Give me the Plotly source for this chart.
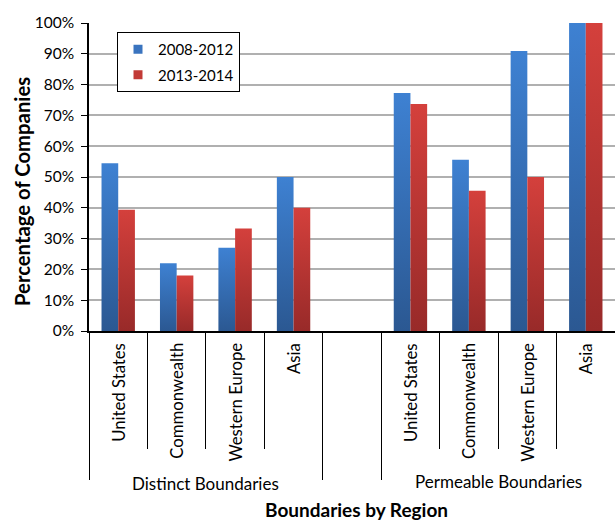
import plotly.graph_objects as go

# Survey results: share of companies by boundary type and region
regions = ["United States", "Commonwealth", "Western Europe", "Asia"]
groups = ["Distinct Boundaries", "Permeable Boundaries"]
periods = ["2008-2012", "2013-2014"]

distinct_2008 = [54.5, 22.0, 27.0, 50.0]
distinct_2013 = [39.4, 18.0, 33.3, 40.0]
permeable_2008 = [77.3, 55.6, 90.9, 100.0]
permeable_2013 = [73.7, 45.5, 50.0, 100.0]

y_ticks = list(range(0, 101, 10))
y_tick_labels = [f"{t}%" for t in y_ticks]

series = {
    "2008-2012": [distinct_2008, permeable_2008],
    "2013-2014": [distinct_2013, permeable_2013],
}
# (bottom colour, top colour, legend colour)
colours = {
    "2008-2012": ("#2b5892", "#3e81d2", "#3a74bf"),
    "2013-2014": ("#982a29", "#d4403c", "#c23a36"),
}

FONT = "Lato"
n_reg = len(regions)
slot = n_reg + 1          # one empty slot between the two groups
bar_w = 0.2857

fig = go.Figure()

for s, period in enumerate(periods):
    bottom, top, legend_col = colours[period]
    for g, vals in enumerate(series[period]):
        for j, v in enumerate(vals):
            xc = g * slot + j
            x0 = xc - bar_w + s * bar_w
            x1 = x0 + bar_w
            fig.add_trace(go.Scatter(
                x=[x0, x1, x1, x0, x0],
                y=[0, 0, v, v, 0],
                mode="none",
                fill="toself",
                fillgradient=dict(type="vertical",
                                  colorscale=[[0, bottom], [1, top]]),
                showlegend=False,
                hoverinfo="skip",
            ))
    # legend entry
    fig.add_trace(go.Scatter(
        x=[None], y=[None], mode="markers", name=period,
        marker=dict(symbol="square", size=9, color=legend_col),
        legendgroup=period,
    ))

n_slots = 2 * n_reg + 1
boundaries = [k - 0.5 for k in range(n_slots)]
group_edges = [-0.5, n_reg - 0.5, n_reg + 0.5]

annotations = []
# region labels, rotated
for g in range(len(groups)):
    for j, name in enumerate(regions):
        annotations.append(dict(
            x=g * slot + j, xref="x", y=0, yref="paper",
            text=name, textangle=-90, showarrow=False,
            xanchor="center", yanchor="top", yshift=-10,
            font=dict(family=FONT, size=16.7, color="#000000"),
        ))
# group labels
for g, name in enumerate(groups):
    annotations.append(dict(
        x=g * slot + (n_reg - 1) / 2, xref="x", y=0, yref="paper",
        text=name, showarrow=False, xanchor="center", yanchor="middle",
        yshift=-152 + (2 if g else 0),
        font=dict(family=FONT, size=17, color="#000000"),
    ))
# axis titles
annotations.append(dict(
    x=0.5, xref="paper", y=0, yref="paper", text="<b>Boundaries by Region</b>",
    showarrow=False, xanchor="center", yanchor="middle", yshift=-178, xshift=4,
    font=dict(family=FONT, size=19, color="#000000"),
))
annotations.append(dict(
    x=0, xref="paper", y=(331 - 192) / 308, yref="paper",
    text="<b>Percentage of Companies</b>", textangle=-90,
    showarrow=False, xanchor="center", yanchor="middle", xshift=-67,
    font=dict(family=FONT, size=20.3, color="#000000"),
))

fig.update_layout(
    width=615, height=522,
    margin=dict(l=89, r=0, t=23, b=191),
    paper_bgcolor="white", plot_bgcolor="white",
    font=dict(family=FONT, size=15, color="#000000"),
    showlegend=True,
    legend=dict(
        x=(117 - 89) / 526, y=(331 - 32) / 308, xanchor="left", yanchor="top",
        bgcolor="white", bordercolor="#000000", borderwidth=1,
        font=dict(family=FONT, size=15, color="#000000"),
        tracegroupgap=3, itemwidth=30,
    ),
    annotations=annotations,
    xaxis=dict(
        range=[-0.5, n_slots - 0.5], showgrid=False, zeroline=False,
        showline=True, linecolor="#000000", linewidth=1.5,
        tickmode="array", tickvals=group_edges, ticks="outside",
        ticklen=147, tickcolor="#000000", tickwidth=1,
        showticklabels=False,
        minor=dict(tickmode="array", tickvals=boundaries, ticks="outside",
                   ticklen=116, tickcolor="#000000", tickwidth=1),
    ),
    yaxis=dict(
        range=[0, 100], tickmode="array", tickvals=y_ticks,
        ticktext=y_tick_labels,
        showgrid=True, gridcolor="#b0b0b0", gridwidth=1.5,
        zeroline=False, showline=True, linecolor="#000000", linewidth=1.5,
        ticks="outside", ticklen=6, tickcolor="#000000", tickwidth=1,
        ticklabelstandoff=4,
        tickfont=dict(family=FONT, size=15.5, color="#000000"),
    ),
)

fig.write_html("out.html")
